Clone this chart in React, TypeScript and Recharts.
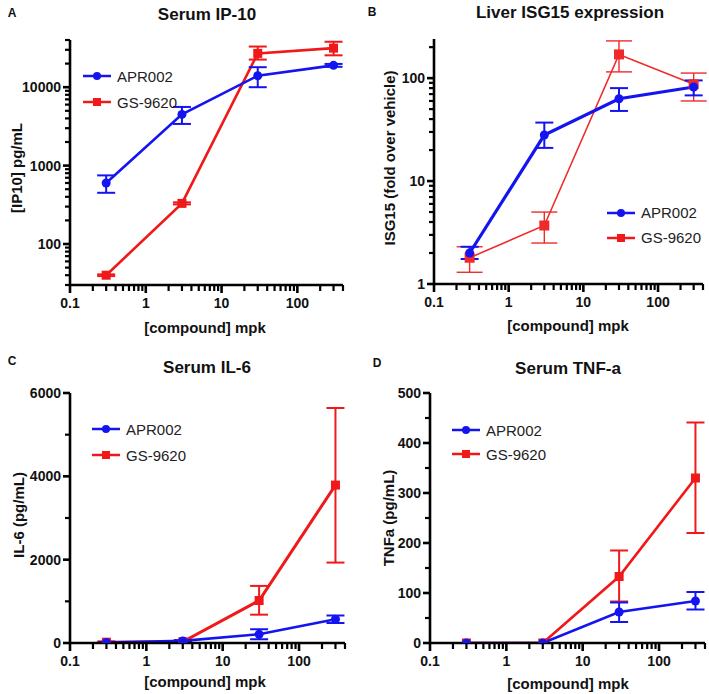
import React from 'react';
import { LineChart, Line, XAxis, YAxis, ErrorBar, Legend } from 'recharts';

const doses = [0.3, 3, 30, 300];
const xMajor = [0.1, 1, 10, 100];
const xMinor = [0.2, 0.3, 0.4, 0.5, 0.6, 0.7, 0.8, 0.9, 2, 3, 4, 5, 6, 7, 8, 9, 20, 30, 40, 50, 60, 70, 80, 90, 200, 300, 400];

// A: Serum IP-10
const ipApr = [600, 4500, 14000, 19000];
const ipAprLo = [450, 3400, 10000, 18200];
const ipAprHi = [750, 5600, 18000, 19800];
const ipGs = [40, 330, 27000, 31500];
const ipGsLo = [39, 320, 22500, 25500];
const ipGsHi = [41, 340, 33000, 38000];
const ipYMajor = [100, 1000, 10000];
const ipYMinor = [30, 40, 50, 60, 70, 80, 90, 200, 300, 400, 500, 600, 700, 800, 900, 2000, 3000, 4000, 5000, 6000, 7000, 8000, 9000, 20000, 30000, 40000];

// B: Liver ISG15
const isgApr = [2.0, 28, 63, 82];
const isgAprLo = [1.75, 21, 48, 68];
const isgAprHi = [2.3, 37, 80, 95];
const isgGs = [1.8, 3.7, 170, 87];
const isgGsLo = [1.3, 2.5, 115, 60];
const isgGsHi = [2.3, 5.0, 230, 112];
const isgYMajor = [1, 10, 100];
const isgYMinor = [2, 3, 4, 5, 6, 7, 8, 9, 20, 30, 40, 50, 60, 70, 80, 90, 200];

// C: Serum IL-6
const il6Apr = [10, 50, 210, 570];
const il6AprLo = [0, 30, 90, 480];
const il6AprHi = [20, 70, 330, 660];
const il6Gs = [20, 30, 1020, 3790];
const il6GsLo = [0, 10, 680, 1930];
const il6GsHi = [40, 50, 1370, 5640];
const il6YMajor = [0, 2000, 4000, 6000];
const il6YMinor = [1000, 3000, 5000];

// D: Serum TNF-a
const tnfApr = [0, 0, 62, 84];
const tnfAprLo = [0, 0, 42, 67];
const tnfAprHi = [0, 0, 81, 102];
const tnfGs = [0, 0, 133, 330];
const tnfGsLo = [0, 0, 83, 220];
const tnfGsHi = [0, 0, 185, 441];
const tnfYMajor = [0, 100, 200, 300, 400, 500];
const tnfYMinor = [50, 150, 250, 350, 450];

const BLUE = '#1414f0';
const RED = '#f01818';
const FONT = '"Liberation Sans", Arial, Helvetica, sans-serif';

function buildRows(apr: number[], aprLo: number[], aprHi: number[], gs: number[], gsLo: number[], gsHi: number[]) {
  return doses.map((d, i) => ({
    dose: d,
    apr: apr[i],
    aprErr: [apr[i] - aprLo[i], aprHi[i] - apr[i]],
    gs: gs[i],
    gsErr: [gs[i] - gsLo[i], gsHi[i] - gs[i]],
  }));
}

const fmtMajor = (majors: number[]) => (v: number) => (majors.includes(v) ? String(v) : '');

// custom ticks: long mark + label for majors, short mark for minors
const makeXTick = (majors: number[]) => (props: any) => {
  const { x, y, payload } = props;
  const v = payload.value;
  const major = majors.includes(v);
  return (
    <g>
      <line x1={x} y1={y} x2={x} y2={y + (major ? 8 : 6)} stroke="#000" strokeWidth={major ? 2.6 : 2.2} />
      {major && (
        <text x={x} y={y + 23} textAnchor="middle" fontSize={14} fontWeight="bold" fontFamily={FONT} fill="#111">
          {String(v)}
        </text>
      )}
    </g>
  );
};

const makeYTick = (majors: number[]) => (props: any) => {
  const { x, y, payload } = props;
  const v = payload.value;
  const major = majors.includes(v);
  return (
    <g>
      <line x1={x} y1={y} x2={x - (major ? 7 : 5)} y2={y} stroke="#000" strokeWidth={major ? 2.6 : 2.2} />
      {major && (
        <text x={x - 9} y={y} dy={5} textAnchor="end" fontSize={14} fontWeight="bold" fontFamily={FONT} fill="#111">
          {String(v)}
        </text>
      )}
    </g>
  );
};

const squareDot = (color: string, size: number) => (props: any) => {
  const { cx, cy, index } = props;
  if (cx == null || cy == null) return <g key={index} />;
  return <rect key={index} x={cx - size / 2} y={cy - size / 2} width={size} height={size} fill={color} />;
};

const legendContent = (rowH: number, redSize: number) => () => (
  <div style={{ fontFamily: FONT, fontSize: 15, color: '#222' }}>
    {[
      { name: 'APR002', color: BLUE, shape: 'circle' },
      { name: 'GS-9620', color: RED, shape: 'square' },
    ].map((s) => (
      <div key={s.name} style={{ display: 'flex', alignItems: 'center', height: rowH }}>
        <svg width={28} height={20} style={{ marginRight: 6 }}>
          <line x1={0} y1={10} x2={28} y2={10} stroke={s.color} strokeWidth={2.5} />
          {s.shape === 'circle' ? (
            <circle cx={14} cy={10} r={4} fill={s.color} />
          ) : (
            <rect x={14 - redSize / 2} y={10 - redSize / 2} width={redSize} height={redSize} fill={s.color} />
          )}
        </svg>
        <span>{s.name}</span>
      </div>
    ))}
  </div>
);

type PanelProps = {
  left: number;
  top: number;
  width: number;
  height: number;
  margin: { top: number; right: number; left: number; bottom: number };
  yWidth: number;
  xHeight: number;
  data: any[];
  yScale: 'log' | 'linear';
  yDomain: [number, number];
  yMajor: number[];
  yMinor: number[];
  aprWidth: number;
  gsWidth: number;
  gsColor: string;
  gsSize: number;
  gsCap: number;
  legendPos: { left: number; top: number };
  legendRow: number;
};

function Panel(p: PanelProps) {
  return (
    <div style={{ position: 'absolute', left: p.left, top: p.top }}>
      <LineChart width={p.width} height={p.height} data={p.data} margin={p.margin}>
        <XAxis
          dataKey="dose"
          type="number"
          scale="log"
          domain={[0.1, 400]}
          allowDataOverflow
          ticks={[...xMajor, ...xMinor].sort((a, b) => a - b)}
          interval={0}
          minTickGap={0}
          tickFormatter={fmtMajor(xMajor)}
          tick={makeXTick(xMajor)}
          tickLine={false}
          tickSize={0}
          tickMargin={0}
          height={p.xHeight}
          axisLine={{ stroke: '#000', strokeWidth: 2.6 }}
        />
        <YAxis
          type="number"
          scale={p.yScale}
          domain={p.yDomain}
          allowDataOverflow
          ticks={[...p.yMajor, ...p.yMinor].sort((a, b) => a - b)}
          interval={0}
          minTickGap={0}
          tickFormatter={fmtMajor(p.yMajor)}
          tick={makeYTick(p.yMajor)}
          tickLine={false}
          tickSize={0}
          tickMargin={0}
          width={p.yWidth}
          axisLine={{ stroke: '#000', strokeWidth: 2.6 }}
        />
        <Legend
          layout="vertical"
          align="center"
          verticalAlign="middle"
          wrapperStyle={{ left: p.legendPos.left, top: p.legendPos.top, width: 'auto' }}
          content={legendContent(p.legendRow, 8)}
        />
        <Line
          dataKey="gs"
          name="GS-9620"
          stroke={p.gsColor}
          strokeWidth={p.gsWidth}
          dot={squareDot(p.gsColor, p.gsSize)}
          activeDot={false}
          isAnimationActive={false}
        >
          <ErrorBar dataKey="gsErr" direction="y" width={p.gsCap} stroke={p.gsColor} strokeWidth={p.gsWidth > 2 ? 2 : 1.4} />
        </Line>
        <Line
          dataKey="apr"
          name="APR002"
          stroke={BLUE}
          strokeWidth={p.aprWidth}
          dot={{ r: 4.5, fill: BLUE, stroke: BLUE, strokeWidth: 0 }}
          activeDot={false}
          isAnimationActive={false}
        >
          <ErrorBar dataKey="aprErr" direction="y" width={9} stroke={BLUE} strokeWidth={2} />
        </Line>
      </LineChart>
    </div>
  );
}

const T = ({ x, y, size, bold = true, rotate = false, children }: any) => (
  <div
    style={{
      position: 'absolute',
      left: x,
      top: y,
      transform: `translate(-50%, -50%)${rotate ? ' rotate(-90deg)' : ''}`,
      whiteSpace: 'nowrap',
      fontFamily: FONT,
      fontSize: size,
      fontWeight: bold ? 'bold' : 'normal',
      color: '#111',
      lineHeight: 1,
    }}
  >
    {children}
  </div>
);

export default function App() {
  const rowsA = buildRows(ipApr, ipAprLo, ipAprHi, ipGs, ipGsLo, ipGsHi);
  const rowsB = buildRows(isgApr, isgAprLo, isgAprHi, isgGs, isgGsLo, isgGsHi);
  const rowsC = buildRows(il6Apr, il6AprLo, il6AprHi, il6Gs, il6GsLo, il6GsHi);
  const rowsD = buildRows(tnfApr, tnfAprLo, tnfAprHi, tnfGs, tnfGsLo, tnfGsHi);

  return (
    <div style={{ position: 'absolute', left: 0, top: 0, width: 709, height: 694, background: '#fff', overflow: 'hidden' }}>
      <Panel
        left={0} top={0} width={355} height={340}
        margin={{ top: 40, right: 12, left: 0, bottom: 0 }}
        yWidth={70} xHeight={55}
        data={rowsA} yScale="log" yDomain={[30, 40000]} yMajor={ipYMajor} yMinor={ipYMinor}
        aprWidth={2.6} gsWidth={2.6} gsColor={RED} gsSize={9} gsCap={9}
        legendPos={{ left: 83, top: 63 }} legendRow={26}
      />
      <Panel
        left={355} top={0} width={354} height={340}
        margin={{ top: 39, right: 6, left: 0, bottom: 0 }}
        yWidth={79} xHeight={56}
        data={rowsB} yScale="log" yDomain={[1, 240]} yMajor={isgYMajor} yMinor={isgYMinor}
        aprWidth={3.2} gsWidth={1.6} gsColor="#f02a2a" gsSize={10} gsCap={13}
        legendPos={{ left: 252, top: 200 }} legendRow={25}
      />
      <Panel
        left={0} top={340} width={355} height={354}
        margin={{ top: 53, right: 10, left: 0, bottom: 0 }}
        yWidth={70} xHeight={51}
        data={rowsC} yScale="linear" yDomain={[0, 6000]} yMajor={il6YMajor} yMinor={il6YMinor}
        aprWidth={2.6} gsWidth={3} gsColor={RED} gsSize={9} gsCap={9}
        legendPos={{ left: 92, top: 76 }} legendRow={26}
      />
      <Panel
        left={355} top={340} width={354} height={354}
        margin={{ top: 53, right: 4, left: 0, bottom: 0 }}
        yWidth={75} xHeight={51}
        data={rowsD} yScale="linear" yDomain={[0, 500]} yMajor={tnfYMajor} yMinor={tnfYMinor}
        aprWidth={2.6} gsWidth={2.6} gsColor={RED} gsSize={9} gsCap={9}
        legendPos={{ left: 97, top: 78 }} legendRow={24}
      />

      <T x={12} y={13} size={12}>A</T>
      <T x={207} y={14} size={17}>Serum IP-10</T>
      <T x={205} y={327} size={15}>[compound] mpk</T>
      <T x={16} y={168} size={15} rotate>[IP10] pg/mL</T>

      <T x={372} y={12} size={12}>B</T>
      <T x={570} y={12} size={17}>Liver ISG15 expression</T>
      <T x={568} y={325} size={15}>[compound] mpk</T>
      <T x={389} y={158} size={15} rotate>ISG15 (fold over vehicle)</T>

      <T x={12} y={361} size={12}>C</T>
      <T x={207} y={367} size={17}>Serum IL-6</T>
      <T x={205} y={681} size={15}>[compound] mpk</T>
      <T x={18} y={515} size={15} rotate>IL-6 (pg/mL)</T>

      <T x={377} y={363} size={12}>D</T>
      <T x={568} y={368} size={17}>Serum TNF-a</T>
      <T x={568} y={683} size={15}>[compound] mpk</T>
      <T x={388} y={518} size={15} rotate>TNFa (pg/mL)</T>
    </div>
  );
}
